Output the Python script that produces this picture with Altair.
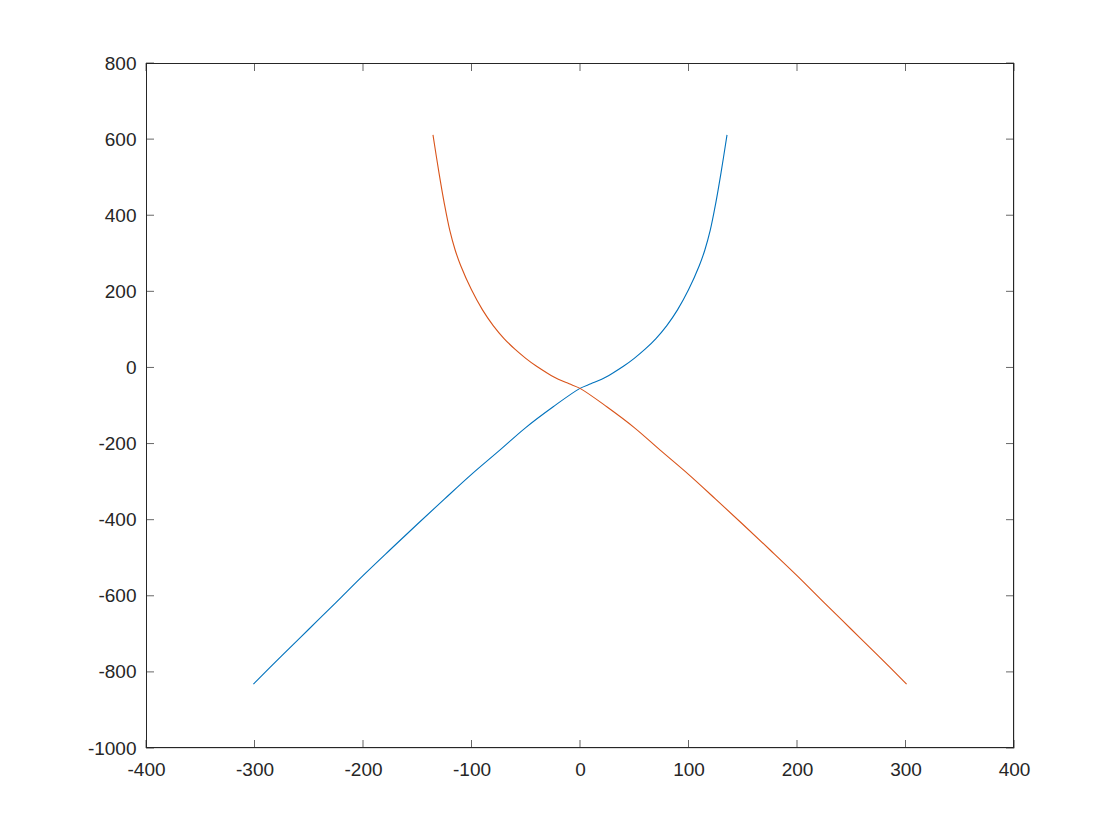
import altair as alt
import pandas as pd

# Series 1 (blue)
blue_x = [-301, -275, -250, -225, -200, -175, -150, -125, -100, -75, -50, -25, 0, 10, 20, 30, 40, 50, 60, 70, 80, 90, 100, 110, 115, 120, 125, 130, 135.5]
blue_y = [-832, -758, -688, -618, -547, -479, -412, -346, -281, -220, -158, -104, -55, -43, -31, -15, 3, 24, 48, 76, 110, 152, 204, 268, 308, 360, 430, 512, 611]
# Series 2 (red)
red_x = [301, 275, 250, 225, 200, 175, 150, 125, 100, 75, 50, 25, 0, -10, -20, -30, -40, -50, -60, -70, -80, -90, -100, -110, -115, -120, -125, -130, -135.5]
red_y = [-832, -758, -688, -618, -547, -479, -412, -346, -281, -220, -158, -104, -55, -43, -31, -15, 3, 24, 48, 76, 110, 152, 204, 268, 308, 360, 430, 512, 611]

x_ticks = [-400, -300, -200, -100, 0, 100, 200, 300, 400]
y_ticks = [-1000, -800, -600, -400, -200, 0, 200, 400, 600, 800]

W, H = 868, 685
AX = "#262626"

rows = []
for i, (x, y) in enumerate(zip(blue_x, blue_y)):
    rows.append({"x": x, "y": y, "s": "a", "i": i})
for i, (x, y) in enumerate(zip(red_x, red_y)):
    rows.append({"x": x, "y": y, "s": "b", "i": i})
df = pd.DataFrame(rows)

xs = alt.Scale(domain=[-400, 400], nice=False, zero=False)
ys = alt.Scale(domain=[-1000, 800], nice=False, zero=False)

xaxis = alt.Axis(values=x_ticks, ticks=False, domain=False, grid=False, labelFontSize=19,
                 labelFont="Liberation Sans", labelColor=AX, labelPadding=12, title=None,
                 labelFlush=False, labelOverlap=False, labelExpr="'' + datum.value")
yaxis = alt.Axis(values=y_ticks, ticks=False, domain=False, grid=False, labelFontSize=19,
                 labelFont="Liberation Sans", labelColor=AX, labelPadding=10, title=None,
                 labelFlush=False, labelOverlap=False, labelExpr="'' + datum.value")

lines = alt.Chart(df).mark_line(strokeWidth=1.1, interpolate="catmull-rom").encode(
    x=alt.X("x:Q", scale=xs, axis=xaxis, title=None),
    y=alt.Y("y:Q", scale=ys, axis=yaxis, title=None),
    color=alt.Color("s:N", scale=alt.Scale(domain=["a", "b"], range=["#0072BD", "#D95319"]), legend=None),
    order="i:Q",
    detail="s:N",
)

xt = pd.DataFrame({"x": x_ticks})
yt = pd.DataFrame({"y": y_ticks})

xtick_b = alt.Chart(xt).mark_tick(color=AX, size=8, thickness=1).encode(
    x=alt.X("x:Q", scale=xs, axis=xaxis, title=None), y=alt.value(H - 4))
xtick_t = alt.Chart(xt).mark_tick(color=AX, size=8, thickness=1).encode(
    x=alt.X("x:Q", scale=xs, axis=xaxis, title=None), y=alt.value(4))
ytick_l = alt.Chart(yt).mark_tick(color=AX, size=8, thickness=1, orient="horizontal").encode(
    y=alt.Y("y:Q", scale=ys, axis=yaxis, title=None), x=alt.value(4))
ytick_r = alt.Chart(yt).mark_tick(color=AX, size=8, thickness=1, orient="horizontal").encode(
    y=alt.Y("y:Q", scale=ys, axis=yaxis, title=None), x=alt.value(W - 4))

frame = alt.Chart(xt).mark_rect(filled=False, stroke=AX, strokeWidth=1).encode(
    x=alt.value(0.5), x2=alt.value(W - 0.5), y=alt.value(0.5), y2=alt.value(H - 0.5))

chart = alt.layer(lines, xtick_b, xtick_t, ytick_l, ytick_r, frame).properties(
    width=W, height=H,
    autosize=alt.AutoSizeParams(type="none"),
    padding={"left": 138, "top": 55, "right": 90, "bottom": 80},
).configure_view(strokeWidth=0).configure(background="white")

chart.save("out.html", embed_options={"renderer": "svg", "actions": False})
